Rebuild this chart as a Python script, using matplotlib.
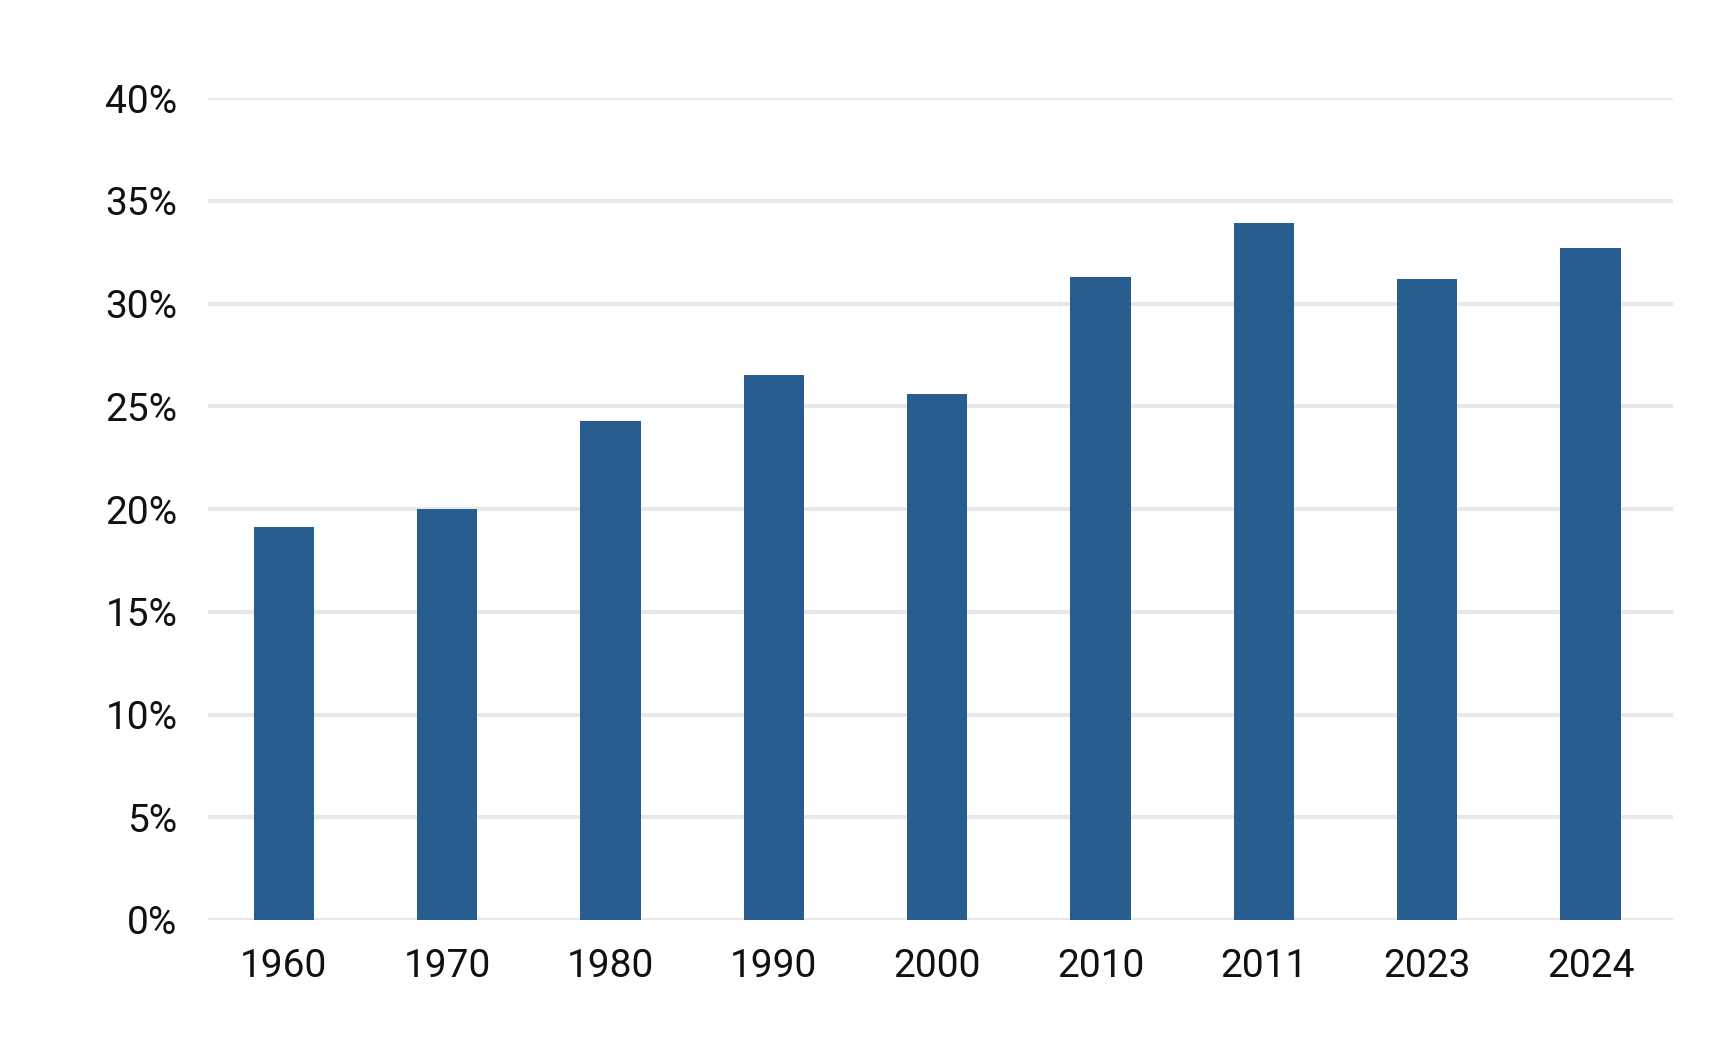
import matplotlib.pyplot as plt
from matplotlib.ticker import FuncFormatter

years = ['1960', '1970', '1980', '1990', '2000', '2010', '2011', '2023', '2024']
shares = [19.1, 20.0, 24.3, 26.5, 25.6, 31.3, 33.9, 31.2, 32.7]

plt.rcParams['font.family'] = ['Roboto', 'DejaVu Sans']

fig = plt.figure(figsize=(17.25, 10.41), dpi=100)
ax = fig.add_axes([208 / 1725, 1 - 920 / 1041, (1673 - 208) / 1725, (920 - 98) / 1041])

ax.bar(range(len(years)), shares, width=0.37, color='#275e8f', zorder=3)

ax.set_ylim(0, 40)
ax.set_xlim(-0.465, 8.505)
ax.set_yticks(range(0, 41, 5))
ax.yaxis.set_major_formatter(FuncFormatter(lambda v, p: '{:.0f}%'.format(v)))
ax.set_xticks(range(len(years)))
ax.set_xticklabels(years)

ax.grid(axis='y', color='#e8e8e8', linewidth=3, zorder=0)
ax.set_axisbelow(True)
for s in ax.spines.values():
    s.set_visible(False)
ax.tick_params(axis='both', length=0, labelsize=28, colors='#111111')
ax.tick_params(axis='y', pad=22)
ax.tick_params(axis='x', pad=20)

plt.savefig('out.png', dpi=100)
